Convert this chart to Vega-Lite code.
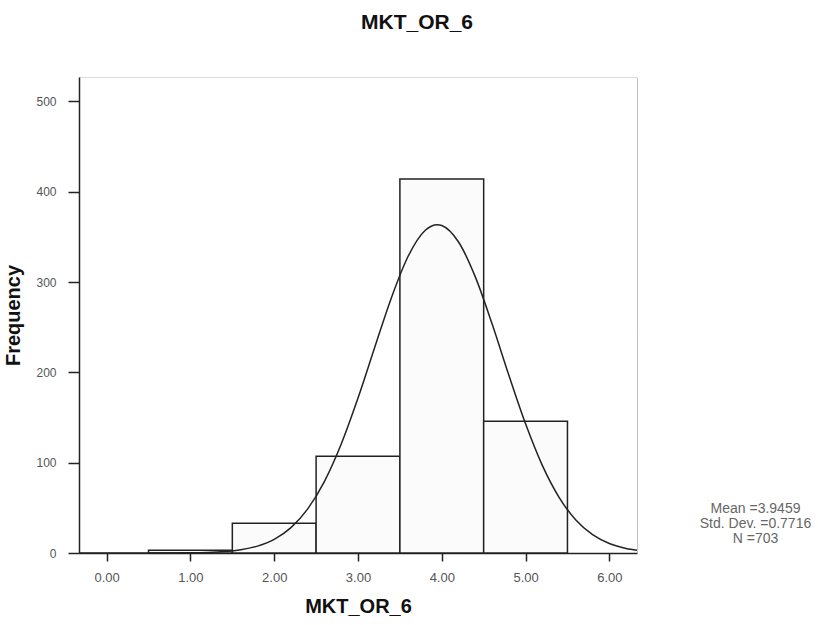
{
  "$schema": "https://vega.github.io/schema/vega-lite/v6.json",
  "width": 558,
  "height": 476,
  "autosize": {"type": "none"},
  "padding": {"left": 79, "top": 77, "right": 181, "bottom": 72},
  "background": "white",
  "title": {
    "text": "MKT_OR_6",
    "font": "Liberation Sans",
    "fontSize": 21,
    "fontWeight": "bold",
    "color": "#111",
    "anchor": "middle",
    "frame": "group",
    "dx": 59,
    "baseline": "alphabetic",
    "offset": 27
  },
  "config": {
    "view": {"stroke": "#dcdcdc", "strokeWidth": 1},
    "axis": {
      "labelFont": "Liberation Sans",
      "titleFont": "Liberation Sans",
      "grid": false
    }
  },
  "datasets": {
    "bars": [
      {"bin_start": 0.5, "bin_end": 1.5, "count": 3},
      {"bin_start": 1.5, "bin_end": 2.5, "count": 33},
      {"bin_start": 2.5, "bin_end": 3.5, "count": 107},
      {"bin_start": 3.5, "bin_end": 4.5, "count": 414},
      {"bin_start": 4.5, "bin_end": 5.5, "count": 146}
    ],
    "curve": [
      {"value": -0.33, "frequency": 0},
      {"value": 0.0, "frequency": 0.001},
      {"value": 0.2, "frequency": 0.003},
      {"value": 0.4, "frequency": 0.009},
      {"value": 0.6, "frequency": 0.03},
      {"value": 0.8, "frequency": 0.09},
      {"value": 1.0, "frequency": 0.25},
      {"value": 1.2, "frequency": 0.65},
      {"value": 1.4, "frequency": 1.57},
      {"value": 1.6, "frequency": 3.57},
      {"value": 1.8, "frequency": 7.6},
      {"value": 2.0, "frequency": 15.1},
      {"value": 2.2, "frequency": 28.1},
      {"value": 2.4, "frequency": 48.9},
      {"value": 2.6, "frequency": 79.4},
      {"value": 2.8, "frequency": 120.7},
      {"value": 3.0, "frequency": 171.5},
      {"value": 3.2, "frequency": 227.8},
      {"value": 3.4, "frequency": 283.0},
      {"value": 3.6, "frequency": 328.8},
      {"value": 3.8, "frequency": 357.1},
      {"value": 3.9459, "frequency": 363.5},
      {"value": 4.0, "frequency": 362.6},
      {"value": 4.2, "frequency": 344.3},
      {"value": 4.4, "frequency": 305.7},
      {"value": 4.6, "frequency": 253.8},
      {"value": 4.8, "frequency": 197.0},
      {"value": 5.0, "frequency": 143.0},
      {"value": 5.2, "frequency": 97.0},
      {"value": 5.4, "frequency": 61.6},
      {"value": 5.6, "frequency": 36.5},
      {"value": 5.8, "frequency": 20.3},
      {"value": 6.0, "frequency": 10.5},
      {"value": 6.2, "frequency": 5.1},
      {"value": 6.33, "frequency": 3.1}
    ]
  },
  "layer": [
    {
      "data": {"name": "bars"},
      "mark": {"type": "rect", "fill": "#fbfbfb", "stroke": "#222", "strokeWidth": 1.5},
      "encoding": {
        "x": {
          "field": "bin_start",
          "type": "quantitative",
          "scale": {"domain": [-0.33, 6.33], "nice": false, "zero": false},
          "axis": {
            "title": "MKT_OR_6",
            "values": [0, 1, 2, 3, 4, 5, 6],
            "format": ".2f",
            "labelFontSize": 13,
            "labelColor": "#555",
            "labelPadding": 10,
            "tickSize": 8,
            "tickColor": "#222",
            "tickWidth": 1.5,
            "domainColor": "#222",
            "domainWidth": 1.5,
            "titleFontSize": 20,
            "titleFontWeight": "bold",
            "titleColor": "#111",
            "titlePadding": 12
          }
        },
        "x2": {"field": "bin_end"},
        "y": {
          "field": "count",
          "type": "quantitative",
          "scale": {"domain": [0, 527], "nice": false},
          "axis": {
            "title": "Frequency",
            "values": [0, 100, 200, 300, 400, 500],
            "format": "d",
            "labelFontSize": 12,
            "labelColor": "#555",
            "labelPadding": 12,
            "tickSize": 11,
            "tickColor": "#222",
            "tickWidth": 1.5,
            "domainColor": "#222",
            "domainWidth": 1.5,
            "titleFontSize": 20,
            "titleFontWeight": "bold",
            "titleColor": "#111",
            "titlePadding": 12
          }
        }
      }
    },
    {
      "data": {"name": "curve"},
      "mark": {"type": "line", "color": "#222", "strokeWidth": 1.5, "interpolate": "monotone"},
      "encoding": {
        "x": {
          "field": "value",
          "type": "quantitative",
          "scale": {"domain": [-0.33, 6.33], "nice": false, "zero": false},
          "axis": {
            "title": "MKT_OR_6",
            "values": [0, 1, 2, 3, 4, 5, 6],
            "format": ".2f",
            "labelFontSize": 13,
            "labelColor": "#555",
            "labelPadding": 10,
            "tickSize": 8,
            "tickColor": "#222",
            "tickWidth": 1.5,
            "domainColor": "#222",
            "domainWidth": 1.5,
            "titleFontSize": 20,
            "titleFontWeight": "bold",
            "titleColor": "#111",
            "titlePadding": 12
          }
        },
        "y": {
          "field": "frequency",
          "type": "quantitative",
          "scale": {"domain": [0, 527], "nice": false},
          "axis": {
            "orient": "right",
            "labels": false,
            "ticks": false,
            "domain": true,
            "domainColor": "#aaa",
            "domainDash": [1, 1],
            "domainWidth": 1,
            "title": ["Mean =3.9459", "Std. Dev. =0.7716", "N =703"],
            "titleAngle": 0,
            "titleAlign": "center",
            "titleBaseline": "top",
            "titleX": 118,
            "titleY": 424,
            "titleFont": "Liberation Sans",
            "titleFontSize": 14,
            "titleFontWeight": "normal",
            "titleColor": "#666",
            "titleLineHeight": 15
          }
        }
      }
    }
  ],
  "resolve": {"axis": {"y": "independent"}}
}
